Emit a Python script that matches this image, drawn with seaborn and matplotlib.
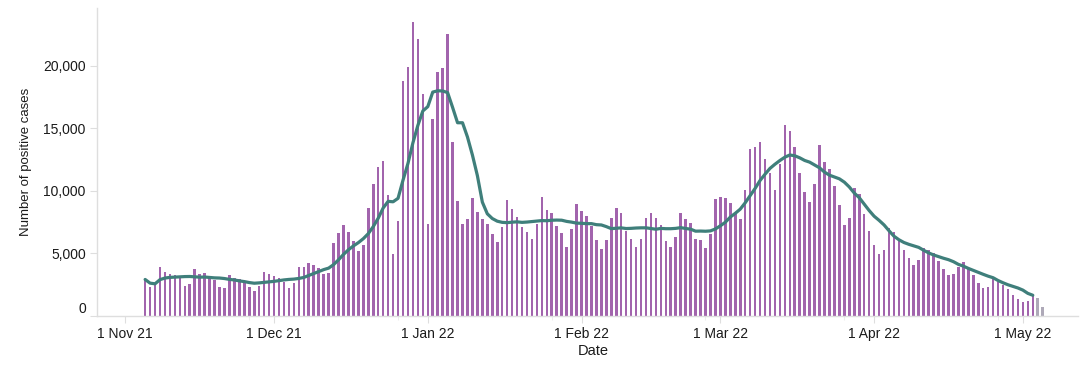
import matplotlib
matplotlib.use('Agg')
import matplotlib.pyplot as plt
import matplotlib.dates as mdates
import matplotlib.ticker as mticker
from matplotlib.transforms import ScaledTranslation
import pandas as pd
import seaborn as sns

# daily positive cases (first bar = 5 Nov 2021)
nov_21 = [2900, 2310, 2450, 3890, 3520, 3330, 3220, 3110, 2400, 2500,
          3700, 3330, 3410, 3010, 2850, 2310, 2210, 3220, 3010, 2900,
          2610, 2310, 1940, 2400, 3520, 3330]
dec_21 = [3140, 3030, 2690, 2220, 2580, 3890, 3890, 4250, 4080, 3800,
          3330, 3410, 5850, 6610, 7250, 6690, 5960, 5180, 5630, 8660,
          10550, 11940, 12420, 9700, 4940, 7560, 18820, 19940, 23500, 22190,
          17780]
jan_22 = [7370, 15720, 19540, 19840, 22570, 13920, 9170, 7370, 7740, 9410,
          8310, 7740, 7380, 6520, 5870, 7080, 9250, 8570, 7930, 7080,
          6700, 6140, 7370, 9510, 8490, 8200, 7180, 6620, 5470, 6970,
          8950]
feb_22 = [8390, 8010, 7180, 6040, 5310, 6040, 7820, 8600, 8230, 6810,
          6140, 5500, 6140, 7820, 8230, 7820, 7260, 5980, 5500, 6330,
          8230, 7740, 7450, 6140, 6040, 5400, 6520, 9330]
mar_22 = [9500, 9440, 9040, 8130, 7740, 10070, 13360, 13520, 13920, 12530,
          11400, 10070, 12160, 15230, 14750, 13470, 11400, 9910, 9130, 10550,
          13660, 12340, 11760, 10390, 8870, 7260, 7850, 10260, 9750, 8150,
          6810]
apr_22 = [5680, 4940, 5290, 7000, 6700, 6150, 5280, 4640, 4050, 4450,
          5390, 5230, 4990, 4370, 3710, 3250, 3330, 3870, 4270, 3710,
          3250, 2580, 2180, 2290, 2990, 2710, 2450, 2130, 1650, 1300]
may_22 = [1110, 1160, 1650, 1380, 710]

first_day = '2021-11-05'
n_provisional = 2  # last days, incomplete -> grey bars, no average

y_ticks = [0, 5000, 10000, 15000, 20000]

PURPLE = '#a264ad'
GREY = '#aea9b8'
TEAL = '#3f7f7b'
AXIS_GREY = '#dedede'

cases = nov_21 + dec_21 + jan_22 + feb_22 + mar_22 + apr_22 + may_22
df = pd.DataFrame({
    'date': pd.date_range(first_day, periods=len(cases), freq='D'),
    'cases': cases,
})
df['provisional'] = False
df.loc[df.index[-n_provisional:], 'provisional'] = True

complete = df[~df['provisional']].copy()
# 7-day (trailing) average drawn over the bars
complete['avg7'] = complete['cases'].rolling(7, min_periods=1).mean()
prov = df[df['provisional']]

sns.set_theme(style='white')
plt.rcParams['font.family'] = ['Liberation Sans', 'DejaVu Sans']

fig = plt.figure(figsize=(10.8, 3.67), dpi=100)
ax = fig.add_axes([0.0898, 0.1398, 0.9082, 0.8376])

bar_w = 0.52
ax.bar(complete['date'], complete['cases'], width=bar_w, color=PURPLE, linewidth=0)
ax.bar(prov['date'], prov['cases'], width=bar_w, color=GREY, linewidth=0)
sns.lineplot(data=complete, x='date', y='avg7', ax=ax, color=TEAL,
             linewidth=2.3, solid_capstyle='round', solid_joinstyle='round')

ax.set_xlim(mdates.date2num(pd.Timestamp('2021-10-26 07:00')),
            mdates.date2num(pd.Timestamp('2022-05-12 02:00')))
ax.set_ylim(0, 24610)

ax.xaxis.set_major_locator(mdates.MonthLocator(bymonthday=1))
ax.xaxis.set_major_formatter(mdates.DateFormatter('%-d %b %y'))
ax.xaxis.set_minor_locator(mdates.MonthLocator(bymonthday=26))
ax.yaxis.set_major_locator(mticker.FixedLocator(y_ticks))
ax.yaxis.set_major_formatter(mticker.StrMethodFormatter('{x:,.0f}'))

for side in ['top', 'right']:
    ax.spines[side].set_visible(False)
for side in ['left', 'bottom']:
    ax.spines[side].set_color(AXIS_GREY)
    ax.spines[side].set_linewidth(1)

ax.tick_params(axis='both', which='major', length=5, width=0.8, color=AXIS_GREY,
               labelsize=10, labelcolor='#1a1a1a', pad=3, left=True, bottom=True)
ax.tick_params(axis='x', which='minor', length=3, width=0.8, color='#eeeeee', bottom=True)

ax.set_xlabel('Date', fontsize=10.5, color='#1a1a1a', labelpad=2)
ax.set_ylabel('Number of positive cases', fontsize=9.5, color='#1a1a1a', labelpad=8)
ax.xaxis.label.set_x(0.506)

# the "0" label sits a little above the baseline in the original
zero_lab = ax.yaxis.get_major_ticks()[0].label1
zero_lab.set_transform(zero_lab.get_transform() + ScaledTranslation(0, 0.08, fig.dpi_scale_trans))

fig.savefig('out.png', dpi=100)
